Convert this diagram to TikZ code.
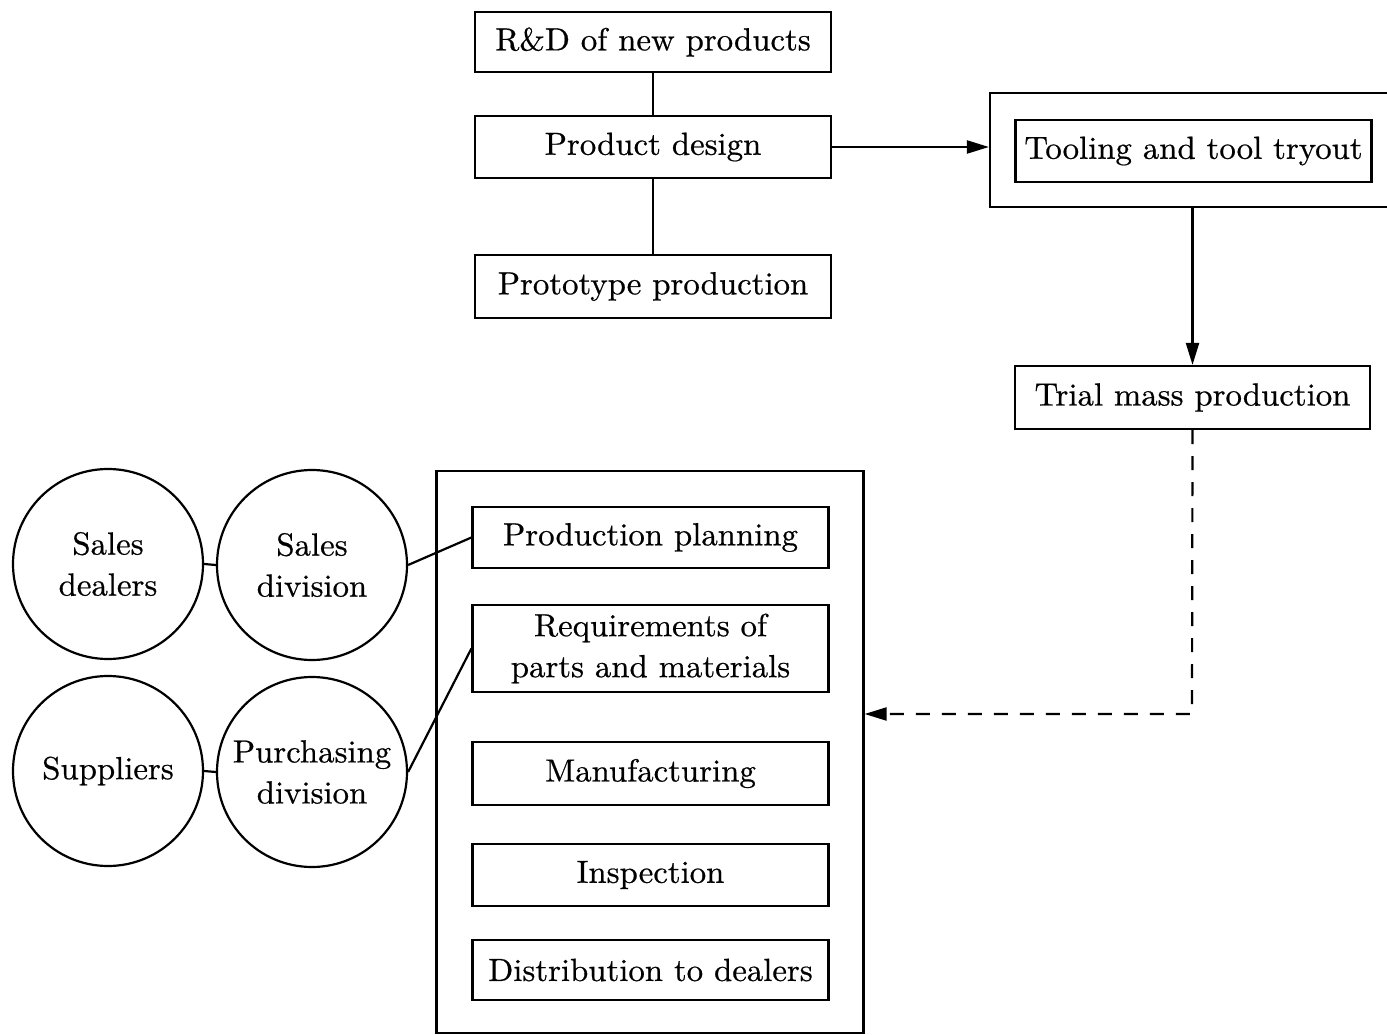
\documentclass[tikz,border=0pt]{standalone}
\usepackage{fontspec}
\setmainfont{lmroman10-regular.otf}[FakeStretch=1.025,FakeBold=0.6]
\usetikzlibrary{arrows.meta}
\begin{document}
\begin{tikzpicture}[x=1pt,y=-1pt,
  line width=2.2pt,
  every node/.style={font=\fontsize{32}{41}\selectfont},
  box/.style={draw,rectangle,inner sep=0pt,minimum width=356pt,align=center},
  frame/.style={draw,rectangle,inner sep=0pt},
  circ/.style={draw,circle,inner sep=0pt,minimum size=190pt,align=center},
  link/.style={line width=2.2pt},
  arr/.style={-{Triangle[length=22pt,width=13pt]}},
  dashedarr/.style={-{Triangle[length=22pt,width=13pt]},dash pattern=on 14pt off 12pt}]
\useasboundingbox (0,0) rectangle (1387,1035);
% top column
\node[box,minimum height=60pt] (rd) at (653,42) {R\&D of new products};
\node[box,minimum height=62pt] (pd) at (653,147) {Product design};
\node[box,minimum height=63pt] (pp) at (653,286.5) {Prototype production};
\draw[link] (rd) -- (pd);
\draw[link] (pd) -- (pp);
% tooling
\node[frame,minimum width=420pt,minimum height=114pt] (toolouter) at (1200,150) {};
\node[box,minimum height=62pt] (tool) at (1193.5,151) {Tooling and tool tryout};
\node[box,minimum width=355pt,minimum height=63pt] (trial) at (1192.5,397.5) {Trial mass production};
\draw[arr] (pd.east) -- (pd.east -| toolouter.west);
\draw[arr] (trial.north |- toolouter.south) -- (trial.north);
% production box
\node[frame,minimum width=427pt,minimum height=562pt] (prod) at (650,752) {};
\node[box,minimum height=61pt] (plan) at (650.5,537.5) {Production planning};
\node[box,minimum height=87pt] (req) at (650.5,648.5) {Requirements of\\parts and materials};
\node[box,minimum height=63pt] (manu) at (650.5,773.5) {Manufacturing};
\node[box,minimum height=62pt] (insp) at (650.5,875) {Inspection};
\node[box,minimum height=60pt] (dist) at (650.5,970) {Distribution to dealers};
\coordinate (bend) at (1192,714);
\draw[dashedarr] (trial.south) -- (bend) -- (bend -| prod.east);
% circles
\node[circ] (dealers) at (108,564) {Sales\\dealers};
\node[circ] (salesdiv) at (312,565) {Sales\\division};
\node[circ] (suppliers) at (108,771) {Suppliers};
\node[circ] (purch) at (312,772) {Purchasing\\division};
\draw[link] (dealers.east) -- (salesdiv.west);
\draw[link] (suppliers.east) -- (purch.west);
\draw[link] (salesdiv.east) -- (plan.west);
\draw[link] (purch.east) -- (req.west);
\end{tikzpicture}
\end{document}
